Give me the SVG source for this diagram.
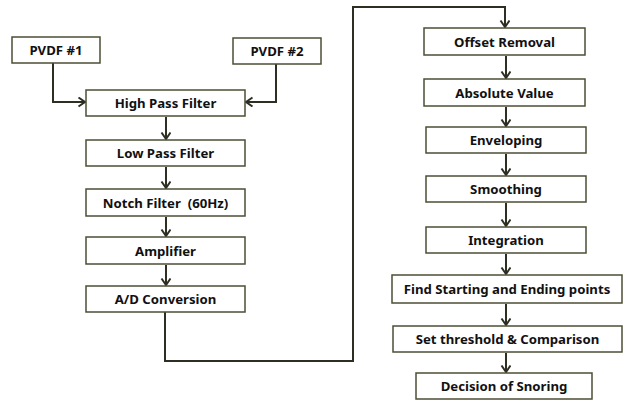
<svg xmlns="http://www.w3.org/2000/svg" width="627" height="401" viewBox="0 0 627 401">
<defs>
<marker id="ah" markerUnits="userSpaceOnUse" markerWidth="12" markerHeight="12" refX="9" refY="5" orient="auto">
<path d="M2.5,0.5 L9,5 L2.5,9.5" fill="none" stroke="#2e2e22" stroke-width="2"/>
</marker>
<style>
.b{fill:#fff;stroke:#4d4d36;stroke-width:1.5}
.t{font-family:"Noto Sans","Open Sans",sans-serif;font-weight:bold;font-size:13.2px;fill:#111;text-anchor:middle;dominant-baseline:central}
.c{fill:none;stroke:#2e2e22;stroke-width:2;marker-end:url(#ah)}
</style>
</defs>
<rect width="627" height="401" fill="#fff"/>
<g id="connectors">
<polyline class="c" points="53,63 53,102 85,102"/>
<polyline class="c" points="276,64 276,102 246,102"/>
<line class="c" x1="166" y1="117" x2="166" y2="139"/>
<line class="c" x1="166" y1="167" x2="166" y2="188"/>
<line class="c" x1="166" y1="217" x2="166" y2="236"/>
<line class="c" x1="166" y1="265" x2="166" y2="285"/>
<polyline class="c" points="165,312 165,361 353,361 353,7 505,7 505,27"/>
<line class="c" x1="506" y1="56" x2="506" y2="78"/>
<line class="c" x1="506" y1="107" x2="506" y2="126"/>
<line class="c" x1="506" y1="154" x2="506" y2="175"/>
<line class="c" x1="506" y1="203" x2="506" y2="226"/>
<line class="c" x1="506" y1="254" x2="506" y2="274"/>
<line class="c" x1="506" y1="304" x2="506" y2="325"/>
<line class="c" x1="506" y1="353" x2="506" y2="372"/>
</g>
<g id="pvdf1"><rect class="b" x="12" y="37" width="88" height="26"/><text class="t" x="56" y="50">PVDF #1</text></g>
<g id="pvdf2"><rect class="b" x="233" y="38" width="88" height="26"/><text class="t" x="277" y="51">PVDF #2</text></g>
<g id="hpf"><rect class="b" x="86" y="90" width="159" height="26"/><text class="t" x="165.5" y="103">High Pass Filter</text></g>
<g id="lpf"><rect class="b" x="86" y="140" width="159" height="26"/><text class="t" x="165.5" y="153">Low Pass Filter</text></g>
<g id="notch"><rect class="b" x="86" y="189" width="159" height="27"/><text class="t" x="165.5" y="202.5" xml:space="preserve">Notch Filter  (60Hz)</text></g>
<g id="amp"><rect class="b" x="86" y="237" width="159" height="27"/><text class="t" x="165.5" y="250.5">Amplifier</text></g>
<g id="ad"><rect class="b" x="86" y="286" width="159" height="26"/><text class="t" x="165.5" y="299">A/D Conversion</text></g>
<g id="offset"><rect class="b" x="424" y="28" width="161" height="27"/><text class="t" x="504.5" y="41.5">Offset Removal</text></g>
<g id="abs"><rect class="b" x="424" y="79" width="161" height="27"/><text class="t" x="504.5" y="92.5">Absolute Value</text></g>
<g id="env"><rect class="b" x="426" y="127" width="160" height="26"/><text class="t" x="506" y="140">Enveloping</text></g>
<g id="smooth"><rect class="b" x="426" y="176" width="160" height="26"/><text class="t" x="506" y="189">Smoothing</text></g>
<g id="integ"><rect class="b" x="426" y="227" width="160" height="26"/><text class="t" x="506" y="240">Integration</text></g>
<g id="find"><rect class="b" x="392" y="275" width="230" height="28"/><text class="t" x="507" y="289">Find Starting and Ending points</text></g>
<g id="thresh"><rect class="b" x="393" y="326" width="229" height="26"/><text class="t" x="507.5" y="339">Set threshold &amp; Comparison</text></g>
<g id="decision"><rect class="b" x="416" y="373" width="176" height="26"/><text class="t" x="504" y="386">Decision of Snoring</text></g>
</svg>
